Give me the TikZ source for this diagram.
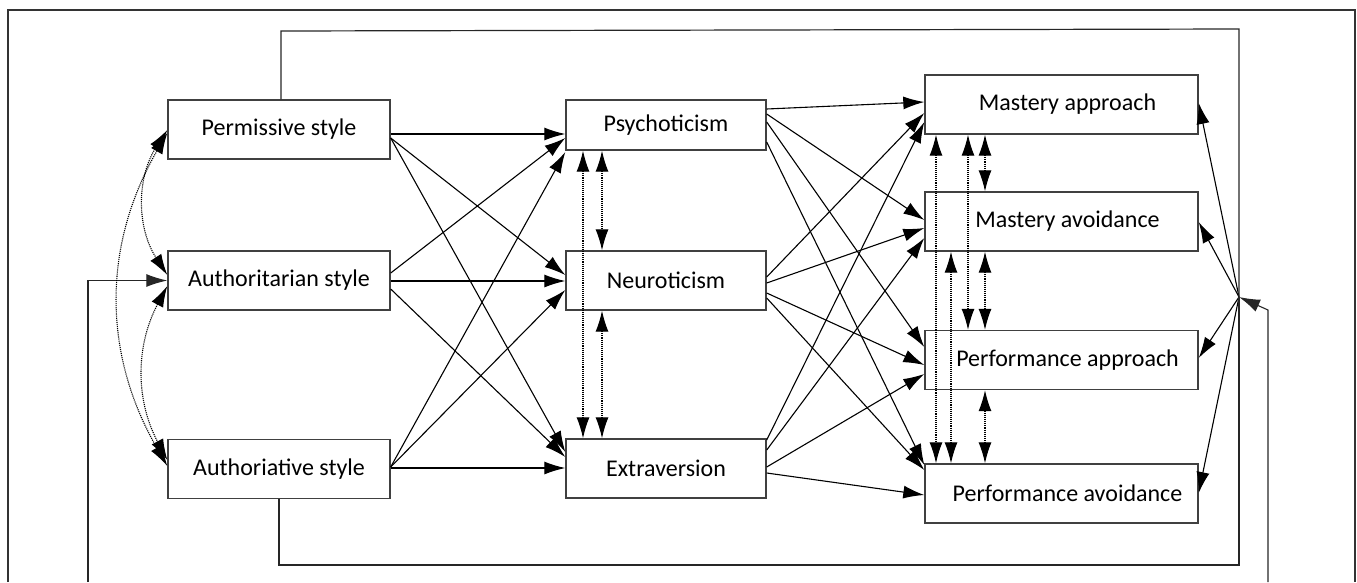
\documentclass[tikz,border=0pt]{standalone}
\usepackage{fontspec}
\setmainfont{Carlito}
\usetikzlibrary{arrows.meta}
\tikzset{bigtip/.tip={Latex[length=21pt,width=13pt]}}
\begin{document}
\begin{tikzpicture}[
    x=1pt, y=-1pt,
    font=\fontsize{24}{28}\selectfont,
    box/.style={draw=black!75, line width=1.4pt, minimum height=59pt, inner sep=0pt},
    lbox/.style={box, minimum width=222pt},
    mbox/.style={box, minimum width=200pt},
    rbox/.style={box, minimum width=273pt, execute at begin node=\hspace*{12pt}},
    arr/.style={line width=1.1pt, -bigtip},
    corr/.style={densely dotted, line width=1.1pt, bigtip-bigtip},
    loopline/.style={line width=1.2pt, draw=black!85}
  ]
  \useasboundingbox (0,0) rectangle (1357,582);
  \draw[line width=1.5pt, black!80] (8,582) -- (8,10) -- (1355,10) -- (1355,582);

  % parenting styles
  \node[lbox] (perm) at (279,129.5) {Permissive style};
  \node[lbox] (auth) at (279,280.5) {Authoritarian style};
  \node[lbox] (autv) at (279,469) {Authoriative style};

  % personality
  \node[mbox, minimum height=50pt] (psy) at (666,125) {Psychoticism};
  \node[mbox] (neu) at (666,280.5) {Neuroticism};
  \node[mbox] (ext) at (666,468.5) {Extraversion};

  % achievement goals
  \node[rbox] (map) at (1061.5,104.5) {Mastery approach};
  \node[rbox] (mav) at (1061.5,221.5) {Mastery avoidance};
  \node[rbox] (pap) at (1061.5,360) {Performance approach};
  \node[rbox] (pav) at (1061.5,493.5) {Performance avoidance};

  \coordinate (hub) at (1239,297);
  \coordinate (lin) at (88,582);
  \coordinate (rin) at (1268,582);

  % styles -> personality
  \foreach \a/\ya/\b/\yb in {perm/134/psy/134, perm/138/neu/275, perm/138/ext/452,
      auth/273/psy/138, auth/281/neu/281, auth/289/ext/457,
      autv/467/psy/152, autv/467/neu/290, autv/468/ext/468}
    \draw[arr] (\a.east |- 0,\ya) -- (\b.west |- 0,\yb);

  % personality -> goals
  \foreach \a/\ya/\b/\yb in {psy/109/map/102, psy/114/mav/220, psy/122/pap/347, psy/142/pav/465,
      neu/277/map/113, neu/283/mav/228, neu/293/pap/365, neu/298/pav/470,
      ext/440/map/122, ext/450/mav/238, ext/467/pap/374, ext/473/pav/495}
    \draw[arr] (\a.east |- 0,\ya) -- (\b.west |- 0,\yb);

  % hub -> goals
  \foreach \b/\yb in {map/103, mav/222, pap/358, pav/493}
    \draw[arr] (hub) -- (\b.east |- 0,\yb);

  % feedback lines
  \draw[loopline] (perm.north -| 281,0) -- (281,31) -- (hub |- 0,29) -- (hub);
  \draw[loopline] (autv.south) -- (autv.south |- 0,565) -- (hub |- 0,565) -- (hub);
  \draw[loopline, arr] (lin) -- (lin |- auth.west) -- (auth.west);
  \draw[loopline, arr] (rin) -- (1268,310) -- (hub);

  % correlations
  \draw[corr] (perm.west |- 0,130) to[bend right=33] (auth.west |- 0,275);
  \draw[corr] (perm.west |- 0,133) to[bend right=30] (autv.west |- 0,466);
  \draw[corr] (auth.west |- 0,286) to[bend right=28] (autv.west |- 0,460);

  \draw[corr] (psy.south -| 583,0) -- (ext.north -| 583,0);
  \draw[corr] (psy.south -| 602,0) -- (neu.north -| 602,0);
  \draw[corr] (neu.south -| 602,0) -- (ext.north -| 602,0);

  \draw[corr] (map.south -| 936,0) -- (pav.north -| 936,0);
  \draw[corr] (map.south -| 968,0) -- (pap.north -| 968,0);
  \draw[corr] (map.south -| 985,0) -- (mav.north -| 985,0);
  \draw[corr] (mav.south -| 951,0) -- (pav.north -| 951,0);
  \draw[corr] (mav.south -| 985,0) -- (pap.north -| 985,0);
  \draw[corr] (pap.south -| 985,0) -- (pav.north -| 985,0);
\end{tikzpicture}
\end{document}
